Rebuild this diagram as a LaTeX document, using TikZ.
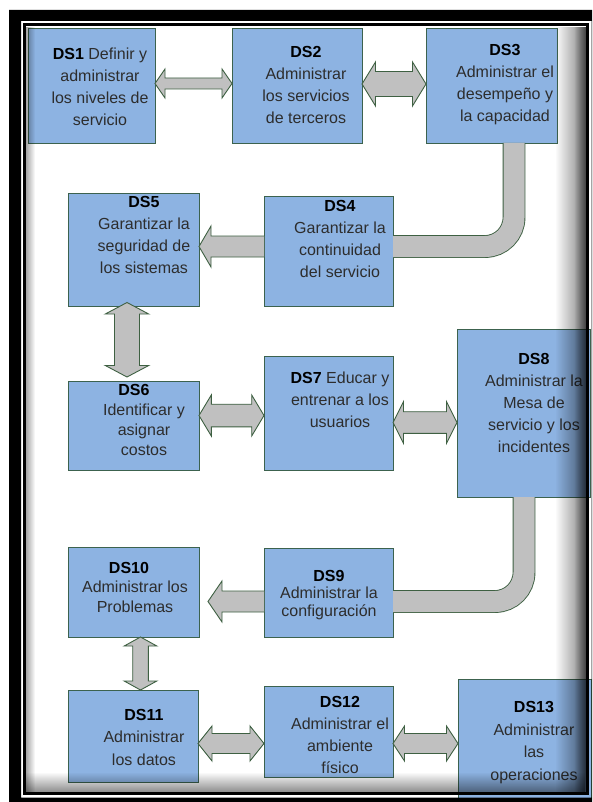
\documentclass[tikz,border=0pt]{standalone}
\usepackage{fontspec}
\setmainfont{Liberation Sans}
\usetikzlibrary{calc,fadings}

\definecolor{boxfill}{RGB}{141,179,226}
\definecolor{boxline}{RGB}{60,98,78}
\definecolor{arrfill}{RGB}{192,192,192}
\definecolor{arrline}{RGB}{62,96,66}
\definecolor{bodytext}{RGB}{45,45,45}

\tikzfading[name=shadeR, left color=transparent!100, right color=transparent!0]
\tikzfading[name=shadeL, left color=transparent!0, right color=transparent!100]
\tikzfading[name=shadeB, top color=transparent!100, bottom color=transparent!0]

% horizontal block arrow with two heads: left tip, right tip, head length, head half-width, shaft half-width
\newcommand\dblharrow[5]{%
  \draw[blockarrow] let \p1=(#1), \p2=(#2) in
    (\x1,\y1) -- (\x1+#3pt,\y1+#4pt) -- (\x1+#3pt,\y1+#5pt) -- (\x2-#3pt,\y1+#5pt)
    -- (\x2-#3pt,\y1+#4pt) -- (\x2,\y1) -- (\x2-#3pt,\y1-#4pt) -- (\x2-#3pt,\y1-#5pt)
    -- (\x1+#3pt,\y1-#5pt) -- (\x1+#3pt,\y1-#4pt) -- cycle;}
% vertical block arrow with two heads: upper tip, lower tip, head length, head half-width, shaft half-width
\newcommand\dblvarrow[5]{%
  \draw[blockarrow] let \p1=(#1), \p2=(#2) in
    (\x1,\y1) -- (\x1+#4pt,\y1-#3pt) -- (\x1+#5pt,\y1-#3pt) -- (\x1+#5pt,\y2+#3pt)
    -- (\x1+#4pt,\y2+#3pt) -- (\x1,\y2) -- (\x1-#4pt,\y2+#3pt) -- (\x1-#5pt,\y2+#3pt)
    -- (\x1-#5pt,\y1-#3pt) -- (\x1-#4pt,\y1-#3pt) -- cycle;}
% block arrow pointing left: tail, tip, head length, head half-width, shaft half-width
\newcommand\leftarrowblk[5]{%
  \draw[blockarrow] let \p1=(#1), \p2=(#2) in
    (\x1,\y1+#5pt) -- (\x2+#3pt,\y1+#5pt) -- (\x2+#3pt,\y1+#4pt) -- (\x2,\y1)
    -- (\x2+#3pt,\y1-#4pt) -- (\x2+#3pt,\y1-#5pt) -- (\x1,\y1-#5pt);}

\tikzset{
  dsbox/.style={draw=boxline, fill=boxfill, line width=0.8pt, anchor=north west,
    inner sep=0pt, outer sep=0pt},
  dstext/.style={align=center, inner sep=0pt, text=bodytext,
    font=\fontsize{16}{22}\selectfont},
  blockarrow/.style={draw=arrline, fill=arrfill, line width=0.9pt, line join=miter},
  elbowarrow/.style={draw=arrline, line width=0.9pt, double=arrfill, double distance=21pt,
    rounded corners=29pt},
}
\newcommand\ttl[1]{\textbf{\color{black}#1}}

\begin{document}
\begin{tikzpicture}[x=1pt, y=-1pt]
\useasboundingbox (0,0) rectangle (592,802);
\begin{scope}
\clip (0,0) rectangle (592,802);
\fill[white] (0,0) rectangle (592,802);

% process boxes
\node[dsbox, minimum width=127pt, minimum height=115pt] (ds1) at (28,28) {};
\node[dsbox, minimum width=130pt, minimum height=115pt] (ds2) at (232,28) {};
\node[dsbox, minimum width=131pt, minimum height=115pt] (ds3) at (426,28) {};
\node[dsbox, minimum width=129pt, minimum height=110pt] (ds4) at (264,196) {};
\node[dsbox, minimum width=131pt, minimum height=113pt] (ds5) at (68,193) {};
\node[dsbox, minimum width=131pt, minimum height=89pt] (ds6) at (68,381) {};
\node[dsbox, minimum width=129pt, minimum height=114pt] (ds7) at (264,356) {};
\node[dsbox, minimum width=133pt, minimum height=168pt] (ds8) at (457,329) {};
\node[dsbox, minimum width=129pt, minimum height=89pt] (ds9) at (264,548) {};
\node[dsbox, minimum width=131pt, minimum height=90pt] (ds10) at (68,547) {};
\node[dsbox, minimum width=130pt, minimum height=92pt] (ds11) at (68,690) {};
\node[dsbox, minimum width=129pt, minimum height=91pt] (ds12) at (264,686) {};
\node[dsbox, minimum width=133pt, minimum height=122pt] (ds13) at (458,679) {};

% box texts
\node[dstext] (ds1t) at (100,86.5) {\ttl{DS1} Definir y\\administrar\\los niveles de\\servicio};
\node[dstext] (ds2t) at (306,85) {\ttl{DS2}\\Administrar\\los servicios\\de terceros};
\node[dstext] (ds3t) at (505,85) {\ttl{DS3}\\Administrar el\\desempeño y\\la capacidad};
\node[dstext] (ds4t) at (340,238.5) {\ttl{DS4}\\Garantizar la\\continuidad\\del servicio};
\node[dstext] (ds5t) at (144,235) {\ttl{DS5}\\Garantizar la\\seguridad de\\los sistemas};
\node[dstext, font=\fontsize{16}{20}\selectfont] (ds6t) at (144,420)
  {\hspace*{-20pt}\ttl{DS6}\\Identificar y\\asignar\\costos};
\node[dstext] (ds7t) at (340,399.5) {\ttl{DS7} Educar y\\entrenar a los\\usuarios};
\node[dstext] (ds8t) at (534,402.5) {\ttl{DS8}\\Administrar la\\Mesa de\\servicio y los\\incidentes};
\node[dstext, font=\fontsize{16}{17.5}\selectfont] (ds9t) at (329,595)
  {\ttl{DS9}\\Administrar la\\configuración};
\node[dstext, font=\fontsize{16}{19.5}\selectfont] (ds10t) at (135,587)
  {\hspace*{-12pt}\ttl{DS10}\\Administrar los\\Problemas};
\node[dstext, font=\fontsize{16}{22.5}\selectfont] (ds11t) at (144,737)
  {\ttl{DS11}\\Administrar\\los datos};
\node[dstext] (ds12t) at (340,735) {\ttl{DS12}\\Administrar el\\ambiente\\físico};
\node[dstext, font=\fontsize{16}{22.7}\selectfont] (ds13t) at (534,742.5)
  {\ttl{DS13}\\Administrar\\las\\operaciones};

% arrow end points that sit off the box edges
\coordinate (tip56a) at ([yshift=3.5pt]ds5.south -| 127,0);
\coordinate (tip56b) at ([yshift=4pt]ds6.north -| 127,0);
\coordinate (tip910) at ([xshift=9pt]ds10.east |- 0,601.5);

% connectors
\dblharrow{ds1.east |- 0,83.5}{ds2.west |- 0,83.5}{10}{14.5}{5.5}
\dblharrow{ds2.east |- 0,84}{ds3.west |- 0,84}{13.5}{22}{12.5}
\draw[elbowarrow] (ds3.south -| 514,0) -- (514,246.5) -- (ds4.east |- 0,246.5);
\leftarrowblk{ds4.west |- 0,246.5}{ds5.east |- 0,246.5}{12}{20.5}{10.5}
\dblvarrow{tip56a}{tip56b}{11.5}{21.7}{12.5}
\dblharrow{ds6.east |- 0,415.5}{ds7.west |- 0,415.5}{12.3}{20.5}{11.3}
\dblharrow{ds7.east |- 0,422.5}{ds8.west |- 0,422.5}{10.5}{20.8}{10.8}
\draw[elbowarrow] (ds8.south -| 524,0) -- (524,601.5) -- (ds9.east |- 0,601.5);
\leftarrowblk{ds9.west |- 0,601.5}{tip910}{14}{20.5}{10.5}
\dblvarrow{ds10.south -| 140.5,0}{ds11.north -| 140.5,0}{9}{16.3}{7.8}
\dblharrow{ds11.east |- 0,743.5}{ds12.west |- 0,743.5}{14}{17.5}{10}
\dblharrow{ds12.east |- 0,743.5}{ds13.west |- 0,743.5}{11.5}{17.5}{10}

% inner shadow of the frame
\fill[black, fill opacity=0.5, path fading=shadeR] (555,26) rectangle (585.5,792);
\fill[black, fill opacity=0.45, path fading=shadeR] (574,26) rectangle (585.5,792);
\fill[black, fill opacity=0.45, path fading=shadeB] (26,772) rectangle (585.5,792);
\fill[black, fill opacity=0.35, path fading=shadeL] (26,26) rectangle (35,792);

% frame
\fill[black, even odd rule] (9,10) rectangle (603.5,810) (21,21) rectangle (591.5,797.7);
\draw[black, line width=2.7pt] (24.7,24.7) rectangle (587.2,793.4);
\end{scope}
\end{tikzpicture}
\end{document}
